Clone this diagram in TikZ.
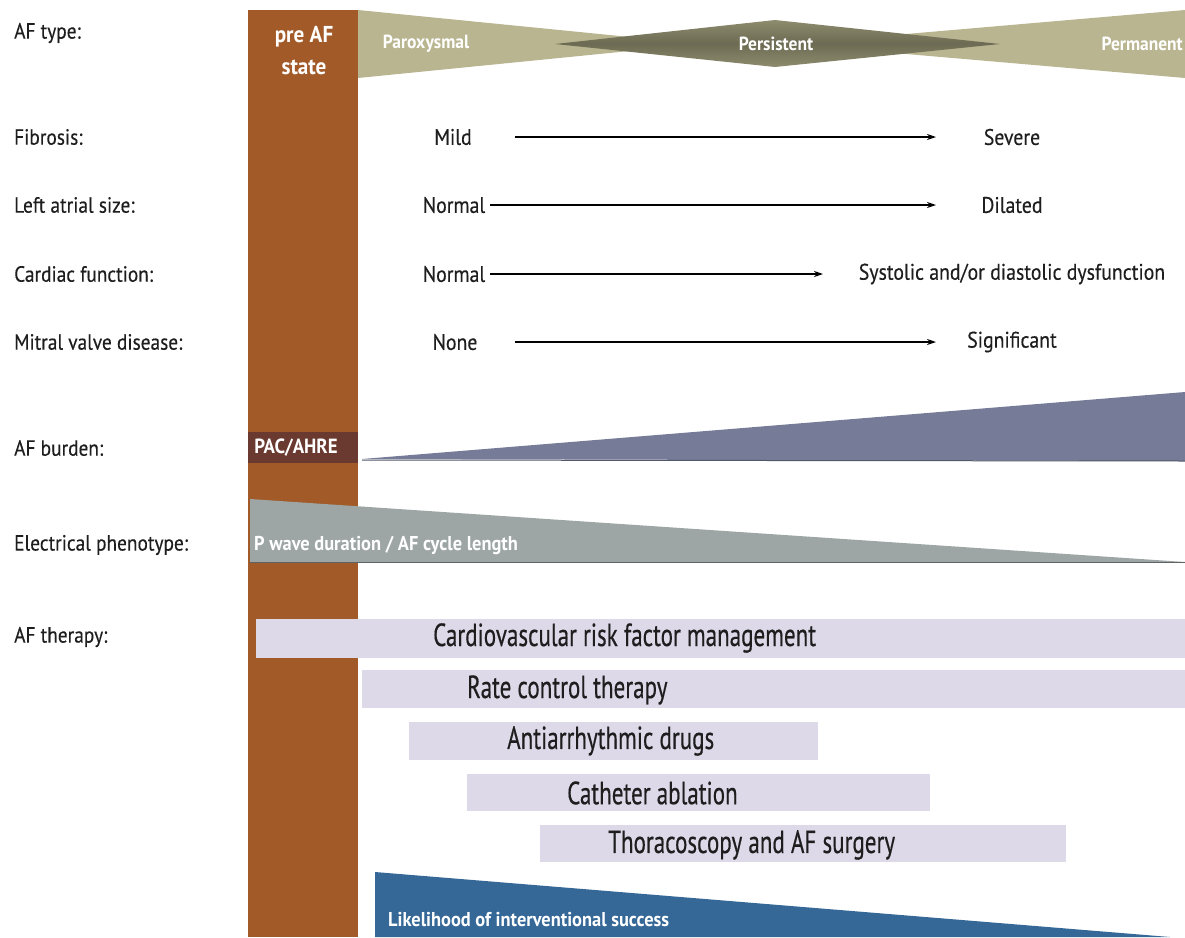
\documentclass[tikz,border=0pt]{standalone}
\usepackage{fontspec}
\setmainfont{PT Sans}
\newfontfamily\labf[FakeStretch=0.88,FakeBold=0.3]{PT Sans}
\newfontfamily\therf[FakeStretch=0.72,FakeBold=0.4]{PT Sans}
\newfontfamily\boldf[FakeStretch=0.92]{PT Sans Bold}
\usetikzlibrary{arrows.meta}
\definecolor{prebrown}{HTML}{A15A28}
\definecolor{pacbox}{HTML}{6A3A30}
\definecolor{khaki}{HTML}{B9B591}
\definecolor{olive}{HTML}{8E8C6E}
\definecolor{oliveDark}{HTML}{6C6A52}
\definecolor{burden}{HTML}{767C98}
\definecolor{elec}{HTML}{9DA5A5}
\definecolor{lav}{HTML}{DDD9E9}
\definecolor{success}{HTML}{356797}
\definecolor{ink}{HTML}{1E1E1E}
\tikzset{
  rowlabel/.style={anchor=west, inner sep=0pt, text=ink, font=\labf\fontsize{22}{26}\selectfont},
  val/.style={inner sep=0pt, text=ink, font=\labf\fontsize{22.5}{26}\selectfont},
  whitebold/.style={inner sep=0pt, text=white, font=\boldf\fontsize{19}{22}\selectfont},
  therapy/.style={inner sep=0pt, text=ink, font=\therf\fontsize{32}{36}\selectfont},
  bar/.style={fill=lav},
  arr/.style={line width=1.4pt, -{Stealth[length=9pt,width=6pt]}},
}
\begin{document}
\begin{tikzpicture}[x=1pt,y=-1pt]
\useasboundingbox (0,0) rectangle (1185,937);

% pre AF state column
\fill[prebrown] (248,10) rectangle (358,937);
\node[whitebold, font=\boldf\fontsize{23}{32}\selectfont, align=center] (pre) at (304,51) {pre AF\\state};

% AF type banner
\fill[khaki] (358,10) -- (700,44) -- (358,78) -- cycle;
\fill[khaki] (1185,10) -- (790,44) -- (1185,78) -- cycle;
\shade[top color=olive, bottom color=olive, middle color=oliveDark]
  (555,44) -- (775,20) -- (1000,44) -- (775,67) -- cycle;
\node[whitebold] (parox) at (426,44) {Paroxysmal};
\node[whitebold] (persist) at (776,44) {Persistent};
\node[whitebold, anchor=east] (perm) at (1183,44) {Permanent};

% row labels
\node[rowlabel] (lbltype) at (14,33) {AF type:};
\node[rowlabel] (lblfib) at (14,137) {Fibrosis:};
\node[rowlabel] (lbllas) at (14,205) {Left atrial size:};
\node[rowlabel] (lblcf) at (14,274) {Cardiac function:};
\node[rowlabel] (lblmv) at (14,342) {Mitral valve disease:};
\node[rowlabel] (lblburden) at (14,448) {AF burden:};
\node[rowlabel] (lblelec) at (14,545) {Electrical phenotype:};
\node[rowlabel] (lbltherapy) at (14,637) {AF therapy:};

% progression rows
\node[val] (mild) at (453,137) {Mild};
\node[val] (severe) at (1012,137) {Severe};
\node[val] (norm1) at (454,205) {Normal};
\node[val] (dilated) at (1012,205) {Dilated};
\node[val] (norm2) at (454,274) {Normal};
\node[val] (dysf) at (1012,274) {Systolic and/or diastolic dysfunction};
\node[val] (none) at (455,342) {None};
\node[val] (signif) at (1012,342) {Significant};

\coordinate (a1s) at (515,137); \coordinate (a1e) at (936,137);
\coordinate (a2s) at (490,205); \coordinate (a2e) at (936,205);
\coordinate (a3s) at (490,274); \coordinate (a3e) at (823,274);
\coordinate (a4s) at (515,342); \coordinate (a4e) at (936,342);
\draw[arr] (a1s) -- (a1e);
\draw[arr] (a2s) -- (a2e);
\draw[arr] (a3s) -- (a3e);
\draw[arr] (a4s) -- (a4e);

% AF burden
\fill[pacbox] (248,432) rectangle (358,463);
\node[whitebold, font=\boldf\fontsize{20.5}{22}\selectfont] (pac) at (296,448) {PAC/AHRE};
\fill[burden] (362,459) -- (1185,392) -- (1185,461) -- cycle;
\draw[burden!70!black, line width=1pt] (362,460) -- (1185,461);

% electrical phenotype
\fill[elec] (250,499) -- (1185,562) -- (250,562) -- cycle;
\draw[elec!60!black, line width=1pt] (250,562.5) -- (1185,562.5);
\node[whitebold, anchor=west, font=\boldf\fontsize{20}{23}\selectfont] (pwave) at (254,545) {P wave duration / AF cycle length};

% therapy bars
\fill[bar] (256,619) rectangle (1185,658);
\fill[bar] (362,670) rectangle (1185,708);
\fill[bar] (409,722) rectangle (818,760);
\fill[bar] (467,774) rectangle (930,811);
\fill[bar] (540,825) rectangle (1066,862);
\node[therapy, anchor=west] (cv) at (433,638) {Cardiovascular risk factor management};
\node[therapy, anchor=west] (rate) at (467,690) {Rate control therapy};
\node[therapy, anchor=west] (aad) at (507,741) {Antiarrhythmic drugs};
\node[therapy, anchor=west] (cath) at (567,793) {Catheter ablation};
\node[therapy, anchor=west] (thor) at (608,845) {Thoracoscopy and AF surgery};

% likelihood of interventional success
\fill[success] (375,872) -- (1170,937) -- (375,937) -- cycle;
\node[whitebold, anchor=west, font=\boldf\fontsize{20}{23}\selectfont] (succ) at (388,920) {Likelihood of interventional success};
\end{tikzpicture}
\end{document}
